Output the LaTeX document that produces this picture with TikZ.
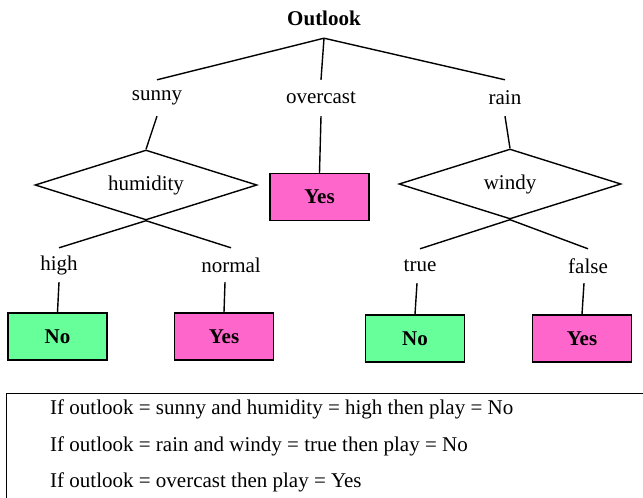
\documentclass[tikz,border=0pt]{standalone}
\usepackage{fontspec}
\setmainfont{Liberation Serif}
\usetikzlibrary{shapes.geometric,calc}
\definecolor{pinkfill}{HTML}{FF66CC}
\definecolor{greenfill}{HTML}{66FF99}
\begin{document}
\begin{tikzpicture}[x=1pt,y=-1pt, font=\fontsize{21}{25}\selectfont,
  conn/.style={line width=1.4pt},
  lbl/.style={inner sep=0pt, minimum height=34pt},
  dec/.style={diamond, aspect=3.17, draw, line width=1.4pt, minimum width=222pt, minimum height=70pt, inner sep=0pt},
  leaf/.style={draw, line width=1.5pt, minimum width=99pt, minimum height=47pt, inner sep=0pt, font=\fontsize{21}{25}\selectfont\bfseries},
  leafyes/.style={leaf, fill=pinkfill},
  leafno/.style={leaf, fill=greenfill},
  rule/.style={anchor=west, inner sep=0pt}]
\useasboundingbox (0,0) rectangle (643,498);
\clip (0,0) rectangle (643,498);
% root
\node[inner sep=0pt, minimum height=40pt, font=\fontsize{21}{25}\selectfont\bfseries] (outlook) at (324,18) {Outlook};
% first level labels
\node[lbl, minimum height=36pt] (sunny) at (157,98) {sunny};
\node[lbl, minimum height=36pt] (overcast) at (321,98) {overcast};
\node[lbl, minimum height=36pt] (rain) at (505,98) {rain};
% decisions and leaf
\node[dec] (hum) at (146,185) {humidity};
\node[leafyes] (yes1) at (319.5,197) {Yes};
\node[dec] (windy) at (510,184) {windy};
% second level labels
\node[lbl] (high) at (59,265) {high};
\node[lbl] (normal) at (231,265) {normal};
\node[lbl] (true) at (420,266) {true};
\node[lbl] (false) at (588,266) {false};
% leaves
\node[leafno] (no1) at (57.5,336.5) {No};
\node[leafyes] (yes2) at (224,336.5) {Yes};
\node[leafno] (no2) at (415,338.5) {No};
\node[leafyes] (yes3) at (582,338.5) {Yes};
% connectors
\draw[conn] (outlook.south) -- (sunny.north);
\draw[conn] (outlook.south) -- (overcast.north);
\draw[conn] (outlook.south) -- (rain.north);
\draw[conn] (sunny.south) -- (hum.north);
\draw[conn] (overcast.south) -- (yes1.north);
\draw[conn] (rain.south) -- (windy.north);
\draw[conn] (hum.south) -- (high.north);
\draw[conn] (hum.south) -- (normal.north);
\draw[conn] (windy.south) -- (true.north);
\draw[conn] (windy.south) -- (false.north);
\draw[conn] (high.south) -- (no1.north);
\draw[conn] ([xshift=-6pt]normal.south) -- (yes2.north);
\draw[conn] ([xshift=-3pt]true.south) -- (no2.north);
\draw[conn] ([xshift=-4pt]false.south) -- (yes3.north);
% rules box
\draw[line width=1pt] (6,393) rectangle (700,560);
\node[rule] (r1) at (50,409) {If outlook = sunny and humidity = high then play = No};
\node[rule] (r2) at (50,446) {If outlook = rain and windy = true then play = No};
\node[rule] (r3) at (50,482) {If outlook = overcast then play = Yes};
\end{tikzpicture}
\end{document}
